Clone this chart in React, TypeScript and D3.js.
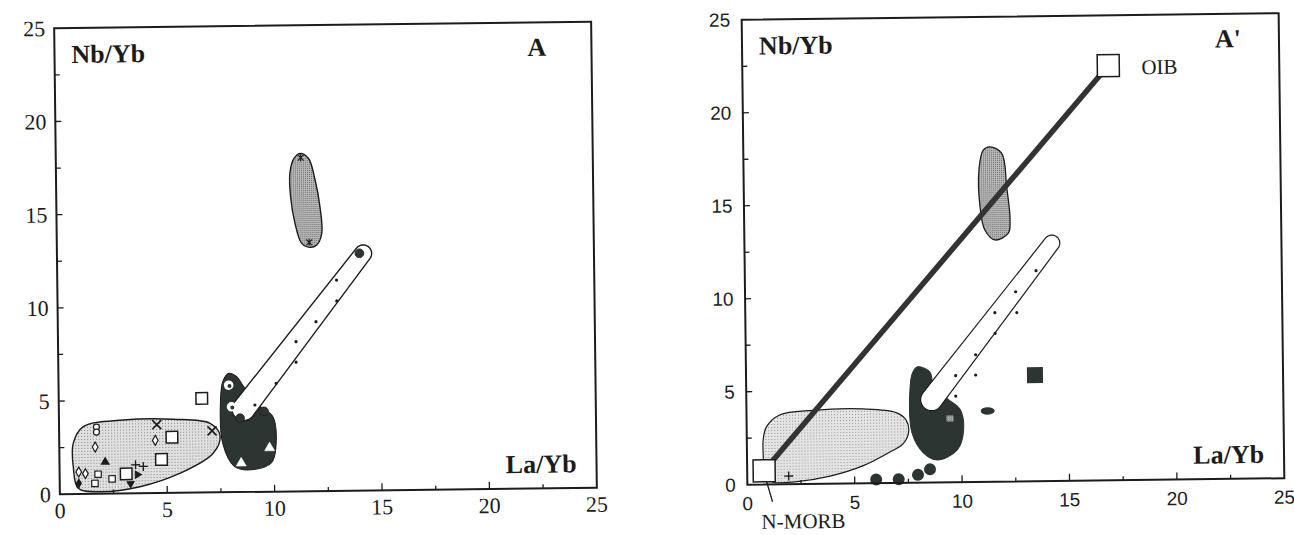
import React from "react";
import * as d3 from "d3";

type Pt = [number, number];
type Marker = { x: number; y: number; kind: string };

const majorTicks = [0, 5, 10, 15, 20, 25];
const minorTicks = [2.5, 7.5, 12.5, 17.5, 22.5];
const xTitle = "La/Yb";
const yTitle = "Nb/Yb";

// ---------- Panel A ----------
const aLightField: Pt[] = [[0.65, 2.72], [1.13, 3.61], [2.99, 3.94], [5.32, 3.95], [7.03, 3.71], [7.49, 3.07], [7.16, 2.1], [5.61, 1.05], [3.73, 0.35], [1.87, 0.11], [0.86, 0.31], [0.64, 1.47]];
const aDarkField: Pt[] = [[7.92, 6.37], [8.3, 6.19], [8.62, 5.65], [9.3, 4.65], [9.95, 4.05], [10.1, 2.62], [9.87, 1.55], [8.93, 1.19], [8.15, 1.37], [7.61, 2.62], [7.53, 4.94], [7.65, 5.95]];
const aUpperField: Pt[] = [[11.37, 18.13], [11.76, 17.86], [12.06, 16.69], [12.27, 15.26], [12.34, 13.83], [12.1, 13.2], [11.78, 13.08], [11.4, 13.3], [11.1, 14.38], [10.91, 15.81], [10.89, 17.07], [11.09, 17.86]];
const aBand: Pt[] = [[8.27, 3.96], [14.5, 13.08]];
const aBandDots: Pt[] = [[13.0, 11.31], [13.0, 10.19], [12.02, 9.09], [11.08, 8.03], [11.07, 6.93], [10.13, 5.81], [9.13, 4.66]];
const aMarkers: Marker[] = [
  { x: 1.74, y: 3.58, kind: "circle" }, { x: 1.74, y: 3.31, kind: "circle" },
  { x: 1.67, y: 2.51, kind: "diamond" }, { x: 0.89, y: 1.18, kind: "diamond" },
  { x: 1.2, y: 1.09, kind: "diamond" }, { x: 4.47, y: 2.83, kind: "diamond" },
  { x: 2.13, y: 1.7, kind: "triangle" }, { x: 0.89, y: 0.57, kind: "diamondFilled" },
  { x: 1.79, y: 1.05, kind: "square" }, { x: 1.64, y: 0.56, kind: "square" }, { x: 2.44, y: 0.79, kind: "square" },
  { x: 3.1, y: 1.05, kind: "squareLarge" }, { x: 5.25, y: 2.99, kind: "squareLarge" },
  { x: 4.75, y: 1.8, kind: "squareLarge" }, { x: 6.66, y: 5.05, kind: "squareLarge" },
  { x: 4.55, y: 3.67, kind: "cross" }, { x: 7.12, y: 3.3, kind: "cross" },
  { x: 3.54, y: 1.53, kind: "plus" }, { x: 3.9, y: 1.44, kind: "plus" },
  { x: 3.62, y: 1.0, kind: "triangleRight" }, { x: 3.3, y: 0.52, kind: "triangleDown" },
  { x: 7.92, y: 5.74, kind: "ring" }, { x: 8.04, y: 4.58, kind: "ring" },
  { x: 8.43, y: 3.96, kind: "dot" }, { x: 9.55, y: 4.31, kind: "dot" }, { x: 14.08, y: 12.73, kind: "dot" },
  { x: 8.46, y: 1.55, kind: "triangleOpen" }, { x: 9.79, y: 2.35, kind: "triangleOpen" },
  { x: 11.4, y: 17.9, kind: "star" }, { x: 11.75, y: 13.35, kind: "star" },
];

// ---------- Panel A' ----------
const bLightField: Pt[] = [[0.76, 2.38], [0.92, 3.1], [1.54, 3.73], [3.09, 3.96], [5.41, 4.0], [6.97, 3.78], [7.43, 3.37], [7.54, 2.74], [7.28, 2.11], [6.66, 1.67], [5.41, 0.95], [3.86, 0.41], [2.31, 0.14], [1.2, 0.12], [0.76, 0.5], [0.76, 1.31]];
const bDarkField: Pt[] = [[7.99, 6.23], [8.55, 5.96], [8.71, 5.33], [9.3, 4.55], [9.95, 3.9], [10.1, 2.82], [9.8, 1.75], [8.86, 1.21], [8.24, 1.57], [7.7, 2.65], [7.62, 4.97], [7.75, 5.9]];
const bUpperField: Pt[] = [[11.49, 18.01], [12.03, 17.65], [12.24, 15.84], [12.38, 14.06], [12.29, 13.35], [11.67, 13.0], [11.2, 13.54], [10.99, 14.8], [10.96, 16.77], [11.17, 17.84]];
const bBand: Pt[] = [[8.31, 3.99], [14.54, 13.13]];
const bBandDots: Pt[] = [[13.56, 11.32], [12.6, 10.2], [11.62, 9.09], [12.64, 9.08], [11.62, 7.98], [10.7, 6.84], [10.69, 5.75], [9.76, 5.73], [9.75, 4.63]];
const bMarkers: Marker[] = [
  { x: 6.0, y: 0.2, kind: "dotLarge" }, { x: 7.05, y: 0.2, kind: "dotLarge" },
  { x: 7.95, y: 0.42, kind: "dotLarge" }, { x: 8.51, y: 0.71, kind: "dotLarge" },
  { x: 11.23, y: 3.81, kind: "ellipse" }, { x: 13.45, y: 5.71, kind: "squareFilled" },
  { x: 9.54, y: 3.48, kind: "squareSpeckled" }, { x: 1.93, y: 0.44, kind: "plus" },
];
const endMemberNames = ["N-MORB", "OIB"];
const endMemberX = [0.79, 17.04];
const endMemberY = [0.74, 22.3];

// ---------- drawing ----------
const SERIF = "'Liberation Serif','DejaVu Serif',serif";
const SANS = "'Liberation Sans',Arial,'DejaVu Sans',sans-serif";
const DARK = "#2c3531";
const INK = "#1c1c1c";

type Frame = { left: number; right: number; top: number; bottom: number };
type Sc = d3.ScaleLinear<number, number>;

const blob = (pts: Pt[], x: Sc, y: Sc) =>
  d3.line<Pt>().x((d) => x(d[0])).y((d) => y(d[1])).curve(d3.curveCatmullRomClosed.alpha(0.5))(pts) || "";

function capsule(ends: Pt[], x: Sc, y: Sc, r1: number, r2: number): string {
  const p1 = [x(ends[0][0]), y(ends[0][1])];
  const p2 = [x(ends[1][0]), y(ends[1][1])];
  const dx = p2[0] - p1[0], dy = p2[1] - p1[1];
  const L = Math.hypot(dx, dy);
  const u = [dx / L, dy / L], n = [-u[1], u[0]];
  const c1 = [p1[0] + u[0] * r1, p1[1] + u[1] * r1];
  const c2 = [p2[0] - u[0] * r2, p2[1] - u[1] * r2];
  const pts: [number, number][] = [];
  for (let i = 0; i <= 24; i++) {
    const t = Math.PI / 2 - (Math.PI * i) / 24;
    pts.push([c2[0] + r2 * (Math.cos(t) * u[0] + Math.sin(t) * n[0]), c2[1] + r2 * (Math.cos(t) * u[1] + Math.sin(t) * n[1])]);
  }
  for (let i = 0; i <= 24; i++) {
    const t = -Math.PI / 2 - (Math.PI * i) / 24;
    pts.push([c1[0] + r1 * (Math.cos(t) * u[0] + Math.sin(t) * n[0]), c1[1] + r1 * (Math.cos(t) * u[1] + Math.sin(t) * n[1])]);
  }
  return (d3.line()(pts) || "") + "Z";
}

const sym = (type: d3.SymbolType, size: number) => d3.symbol().type(type).size(size)() || "";

function MarkerMark({ m, x, y }: { m: Marker; x: Sc; y: Sc }) {
  const px = x(m.x), py = y(m.y);
  const t = `translate(${px},${py})`;
  switch (m.kind) {
    case "circle":
      return <circle cx={px} cy={py} r={3} fill="#fff" stroke={INK} strokeWidth={1.2} />;
    case "diamond":
      return <path transform={t} d={sym(d3.symbolDiamond, 28)} fill="#fff" stroke={INK} strokeWidth={1.2} />;
    case "diamondFilled":
      return <path transform={t} d={sym(d3.symbolDiamond, 34)} fill={INK} />;
    case "triangle":
      return <path transform={t} d={sym(d3.symbolTriangle, 40)} fill={INK} />;
    case "triangleRight":
      return <path transform={`${t} rotate(90)`} d={sym(d3.symbolTriangle, 34)} fill={INK} />;
    case "triangleDown":
      return <path transform={`${t} rotate(180)`} d={sym(d3.symbolTriangle, 34)} fill={INK} />;
    case "triangleOpen":
      return <path transform={t} d={sym(d3.symbolTriangle, 44)} fill="#fff" stroke="#fff" strokeWidth={0.5} />;
    case "square":
      return <rect x={px - 3.2} y={py - 3.2} width={6.4} height={6.4} fill="#fff" stroke={INK} strokeWidth={1.2} />;
    case "squareLarge":
      return <rect x={px - 5.8} y={py - 5.8} width={11.6} height={11.6} fill="#fff" stroke={INK} strokeWidth={1.5} />;
    case "cross":
      return (
        <g transform={t} stroke={INK} strokeWidth={1.7}>
          <line x1={-4.5} y1={-4.5} x2={4.5} y2={4.5} />
          <line x1={-4.5} y1={4.5} x2={4.5} y2={-4.5} />
        </g>
      );
    case "plus":
      return (
        <g transform={t} stroke={INK} strokeWidth={1.3}>
          <line x1={-4.5} y1={0} x2={4.5} y2={0} />
          <line x1={0} y1={-4.5} x2={0} y2={4.5} />
        </g>
      );
    case "star":
      return (
        <g transform={t} stroke={INK} strokeWidth={1.2}>
          <line x1={-3} y1={-3} x2={3} y2={3} />
          <line x1={-3} y1={3} x2={3} y2={-3} />
          <line x1={0} y1={-3.5} x2={0} y2={3.5} />
        </g>
      );
    case "dot":
      return <circle cx={px} cy={py} r={4.4} fill={DARK} stroke={INK} strokeWidth={0.8} />;
    case "ring":
      return (
        <g>
          <circle cx={px} cy={py} r={4.8} fill="#fff" />
          <circle cx={px + 0.8} cy={py + 0.8} r={2} fill={DARK} />
        </g>
      );
    case "dotLarge":
      return <circle cx={px} cy={py} r={6} fill={DARK} />;
    case "ellipse":
      return <ellipse cx={px} cy={py} rx={7} ry={3.8} fill={DARK} />;
    case "squareFilled":
      return <rect x={px - 8} y={py - 8} width={16} height={16} fill={DARK} />;
    case "squareSpeckled":
      return (
        <g>
          <rect x={px - 8} y={py - 9} width={16} height={18} fill={DARK} />
          <rect x={px - 5} y={py - 2} width={7} height={6} fill="url(#speck)" />
        </g>
      );
    default:
      return null;
  }
}

function Axes({ f, x, y, sans }: { f: Frame; x: Sc; y: Sc; sans: boolean }) {
  const font = sans ? SANS : SERIF;
  const size = sans ? 19 : 22;
  const yGap = sans ? 11.5 : 9;
  const xBase = sans ? 25.5 : 24;
  return (
    <g>
      {majorTicks.map((v) => (
        <g key={"ym" + v}>
          {v > 0 && v < 25 && <line x1={f.left} x2={f.left + 6} y1={y(v)} y2={y(v)} stroke={INK} strokeWidth={1.3} />}
          <text x={f.left - yGap} y={y(v)} dy="0.35em" textAnchor="end" fontFamily={font} fontSize={size} fill={INK}>
            {v}
          </text>
        </g>
      ))}
      {minorTicks.map((v) => (
        <line key={"yn" + v} x1={f.left} x2={f.left + 5} y1={y(v)} y2={y(v)} stroke={INK} strokeWidth={1.3} />
      ))}
      {majorTicks.map((v) => (
        <g key={"xm" + v}>
          {v > 0 && v < 25 && <line x1={x(v)} x2={x(v)} y1={f.bottom} y2={f.bottom - 7} stroke={INK} strokeWidth={1.3} />}
          <text x={x(v)} y={f.bottom + xBase} textAnchor="middle" fontFamily={font} fontSize={size} fill={INK}>
            {v}
          </text>
        </g>
      ))}
      {minorTicks.map((v) => (
        <line key={"xn" + v} x1={x(v)} x2={x(v)} y1={f.bottom} y2={f.bottom - 4} stroke={INK} strokeWidth={1.3} />
      ))}
      <rect x={f.left} y={f.top} width={f.right - f.left} height={f.bottom - f.top} fill="none" stroke={INK} strokeWidth={2} />
    </g>
  );
}

function Titles({ f, tag }: { f: Frame; tag: string }) {
  return (
    <g fontFamily={SERIF} fontWeight="bold" fontSize={26} fill={INK}>
      <text x={f.left + 17} y={f.top + 35}>{yTitle}</text>
      <text x={f.right - 20} y={f.bottom - 15.5} textAnchor="end">{xTitle}</text>
      <text x={f.right - 64} y={f.top + 33.5}>{tag}</text>
    </g>
  );
}

const frameA: Frame = { left: 57, right: 594, top: 25, bottom: 491 };
const frameB: Frame = { left: 744.5, right: 1281.5, top: 16.5, bottom: 481.5 };

function PanelA() {
  const f = frameA;
  const x = d3.scaleLinear().domain([0, 25]).range([f.left, f.right]);
  const y = d3.scaleLinear().domain([0, 25]).range([f.bottom, f.top]);
  const cx = (f.left + f.right) / 2, cy = (f.top + f.bottom) / 2;
  return (
    <g transform={`rotate(-0.7 ${cx} ${cy})`}>
      <path d={blob(aLightField, x, y)} fill="url(#stippleLight)" stroke={INK} strokeWidth={1.4} />
      <path d={blob(aUpperField, x, y)} fill="url(#stippleMid)" stroke={INK} strokeWidth={1.4} />
      <path d={blob(aDarkField, x, y)} fill={DARK} stroke={INK} strokeWidth={1} />
      <path d={capsule(aBand, x, y, 11.5, 8.5)} fill="#fff" stroke={INK} strokeWidth={1.4} />
      {aBandDots.map((d, i) => (
        <circle key={i} cx={x(d[0])} cy={y(d[1])} r={1.6} fill={INK} />
      ))}
      {aMarkers.map((m, i) => (
        <MarkerMark key={i} m={m} x={x} y={y} />
      ))}
      <Axes f={f} x={x} y={y} sans={false} />
      <Titles f={f} tag="A" />
    </g>
  );
}

function PanelB() {
  const f = frameB;
  const x = d3.scaleLinear().domain([0, 25]).range([f.left, f.right]);
  const y = d3.scaleLinear().domain([0, 25]).range([f.bottom, f.top]);
  const cx = (f.left + f.right) / 2, cy = (f.top + f.bottom) / 2;
  const [nx, ox] = endMemberX.map((v) => x(v));
  const [ny, oy] = endMemberY.map((v) => y(v));
  return (
    <g transform={`rotate(-0.7 ${cx} ${cy})`}>
      <path d={blob(bLightField, x, y)} fill="url(#stippleLight2)" stroke={INK} strokeWidth={1.2} />
      <path d={blob(bUpperField, x, y)} fill="url(#stippleMid)" stroke={INK} strokeWidth={1.3} />
      <path d={blob(bDarkField, x, y)} fill={DARK} stroke={DARK} strokeWidth={1} />
      <path d={capsule(bBand, x, y, 11, 8)} fill="#fff" stroke={INK} strokeWidth={1.2} />
      {bBandDots.map((d, i) => (
        <circle key={i} cx={x(d[0])} cy={y(d[1])} r={1.6} fill={INK} />
      ))}
      {bMarkers.map((m, i) => (
        <MarkerMark key={i} m={m} x={x} y={y} />
      ))}
      <line x1={nx} y1={ny} x2={ox} y2={oy} stroke="#333" strokeWidth={5.5} />
      <rect x={nx - 11} y={ny - 11} width={22} height={22} fill="#fff" stroke={INK} strokeWidth={1.5} />
      <rect x={ox - 11} y={oy - 11} width={22} height={22} fill="#fff" stroke={INK} strokeWidth={1.5} />
      <line x1={nx + 2.4} y1={ny + 11} x2={nx + 8} y2={ny + 31} stroke={INK} strokeWidth={1.3} />
      <text x={nx - 3.3} y={ny + 58} fontFamily={SERIF} fontSize={21} fill={INK}>{endMemberNames[0]}</text>
      <text x={ox + 33} y={oy + 9} fontFamily={SERIF} fontSize={21} fill={INK}>{endMemberNames[1]}</text>
      <Axes f={f} x={x} y={y} sans={true} />
      <Titles f={f} tag="A'" />
    </g>
  );
}

export default function App() {
  return (
    <svg width={1294} height={535} viewBox="0 0 1294 535" style={{ position: "absolute", left: 0, top: 0, background: "#fff" }}>
      <defs>
        <pattern id="stippleLight" width={3} height={3} patternUnits="userSpaceOnUse">
          <rect width={3} height={3} fill="#e0e0e0" />
          <rect x={1} y={1} width={1} height={1} fill="#888" />
        </pattern>
        <pattern id="stippleLight2" width={3} height={3} patternUnits="userSpaceOnUse">
          <rect width={3} height={3} fill="#e4e4e4" />
          <rect x={1} y={1} width={1} height={1} fill="#969696" />
        </pattern>
        <pattern id="stippleMid" width={2} height={2} patternUnits="userSpaceOnUse">
          <rect width={2} height={2} fill="#bababa" />
          <rect x={0} y={0} width={1} height={1} fill="#6a6a6a" />
        </pattern>
        <pattern id="speck" width={2} height={2} patternUnits="userSpaceOnUse">
          <rect width={2} height={2} fill="#8a8f8c" />
          <rect x={0} y={0} width={1} height={1} fill="#c8c8c8" />
        </pattern>
      </defs>
      <rect width={1294} height={535} fill="#fff" />
      <PanelA />
      <PanelB />
    </svg>
  );
}
